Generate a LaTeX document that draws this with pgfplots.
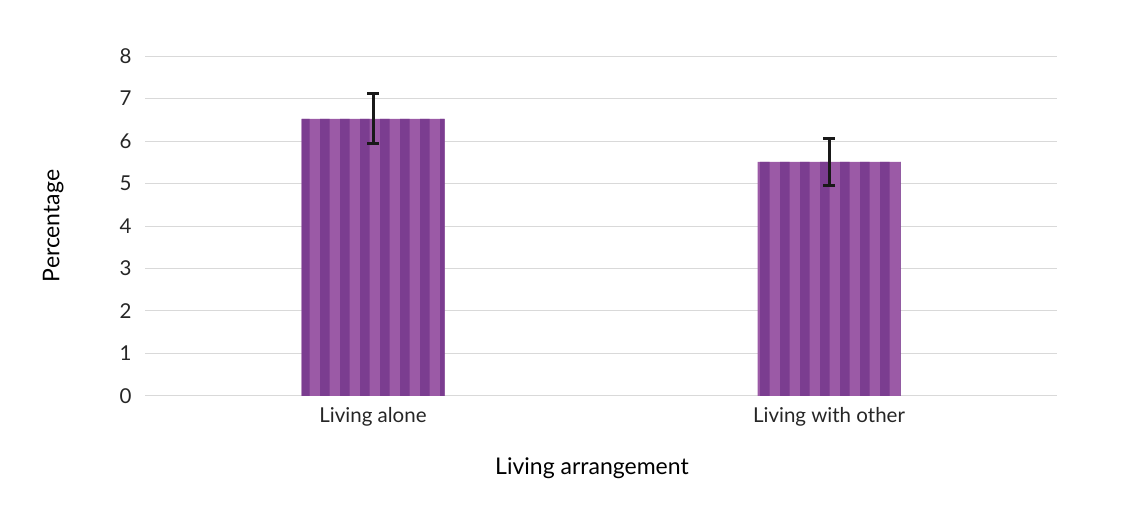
\documentclass[border=0pt]{standalone}
\usepackage{pgfplots}
\pgfplotsset{compat=1.18}
\usepackage{fontspec}
\setmainfont{Lato}
\usetikzlibrary{patterns}
\definecolor{lightp}{HTML}{9B5AA6}
\definecolor{darkp}{HTML}{7B3D90}
\definecolor{gridc}{HTML}{D9D9D9}
\pgfdeclarepatternformonly{mystripes}{\pgfpointorigin}{\pgfqpoint{20pt}{600pt}}{\pgfqpoint{20pt}{600pt}}{%
  \pgfpathrectangle{\pgfpointorigin}{\pgfqpoint{10pt}{600pt}}\pgfusepath{fill}}
\begin{document}
\begin{tikzpicture}
\useasboundingbox (0,0) rectangle (1125pt,522pt);
\begin{axis}[
  at={(145pt,126pt)}, anchor=south west,
  scale only axis, width=912pt, height=340pt,
  xmin=-0.5, xmax=1.5, ymin=0, ymax=8,
  xtick={0,1}, xticklabels={Living alone, Living with other},
  ytick={0,1,...,8},
  ymajorgrids, grid style={gridc, line width=1pt},
  axis line style={draw=none},
  axis x line*=bottom,
  x axis line style={draw=gridc, line width=1pt},
  tick style={draw=none},
  major tick length=0pt,
  /pgf/number format/assume math mode=true,
  ticklabel style={font=\fontsize{20.5pt}{24pt}\selectfont, text=black!85},
  yticklabel style={xshift=-10pt},
  xticklabel style={yshift=-8pt},
  xlabel={Living arrangement},
  xlabel style={at={(axis description cs:0.5,0)}, anchor=north, yshift=-58pt, xshift=-9pt, font=\fontsize{23pt}{27pt}\selectfont},
  every axis y label/.style={at={(-78pt,170pt)}, rotate=90, anchor=south, font=\fontsize{23pt}{27pt}\selectfont},
  ylabel={Percentage},
  ybar, bar width=143pt,
]
\addplot[draw=none, fill=lightp, postaction={pattern=mystripes, pattern color=darkp},
  error bars/.cd, y dir=both, y explicit,
  error bar style={line width=3pt, black!90},
  error mark options={rotate=90, mark size=6pt, line width=3pt, black!90}]
  coordinates {(0,6.52) +- (0,0.59) (1,5.51) +- (0,0.56)};
\end{axis}
\end{tikzpicture}
\end{document}
